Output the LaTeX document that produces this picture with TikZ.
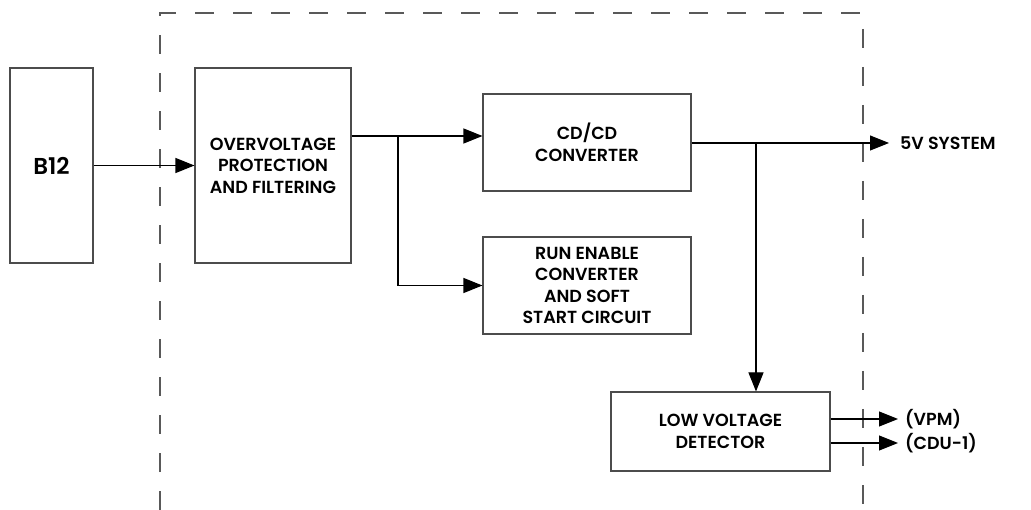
\documentclass[tikz,border=0pt]{standalone}
\usepackage{fontspec}
\setmainfont{Poppins}[UprightFont=* SemiBold, BoldFont=* Bold]
\usetikzlibrary{arrows.meta}
\begin{document}
\begin{tikzpicture}[x=1pt,y=-1pt,
  box/.style={draw=black!70, line width=1.1pt, rectangle, inner sep=0pt, align=center,
    font=\fontsize{17.5}{21.5}\selectfont},
  arr/.style={line width=1.1pt, -{Triangle[length=19pt,width=15pt]}},
  wire/.style={line width=1.1pt},
  lab/.style={anchor=west, inner sep=0pt, font=\fontsize{17.5}{21.5}\selectfont},
  dashbox/.style={draw=black!65, line width=1.1pt, dash pattern=on 19pt off 19pt}]
\useasboundingbox (0,0) rectangle (1031,510);
\draw[dashbox] (160,510) -- (160,13) -- (863,13) -- (863,510);
\node[box, minimum width=83pt, minimum height=195pt, font=\fontsize{23}{26}\selectfont] (b12) at (51.5,165.5) {B12};
\node[box, minimum width=156pt, minimum height=195pt] (ov) at (273,165.5) {OVERVOLTAGE\\PROTECTION\\AND FILTERING};
\node[box, minimum width=208pt, minimum height=97pt] (cd) at (587,142.5) {CD/CD\\CONVERTER};
\node[box, minimum width=208pt, minimum height=97pt] (run) at (587,285.5) {RUN ENABLE\\CONVERTER\\AND SOFT\\START CIRCUIT};
\node[box, minimum width=219pt, minimum height=79pt] (lvd) at (720.5,431.5) {LOW VOLTAGE\\DETECTOR};
\coordinate (j1) at (398,136);
\coordinate (j2) at (756,143);
\coordinate (o5) at (889,143);
\coordinate (ovpm) at (898,419);
\coordinate (ocdu) at (898,443);
\draw[arr] (b12.east) -- (ov.west |- b12.east);
\draw[wire] (ov.east |- j1) -- (j1);
\draw[arr] (j1) -- (cd.west |- j1);
\draw[arr] (j1) |- (run.west);
\draw[arr] (cd.east |- o5) -- (o5);
\draw[arr] (j2) -- (j2 |- lvd.north);
\draw[arr] (lvd.east |- ovpm) -- (ovpm);
\draw[arr] (lvd.east |- ocdu) -- (ocdu);
\node[lab] (t5v) at (900,143) {5V SYSTEM};
\node[lab] (tvpm) at (905,419) {(VPM)};
\node[lab] (tcdu) at (905,443) {(CDU-1)};
\end{tikzpicture}
\end{document}
